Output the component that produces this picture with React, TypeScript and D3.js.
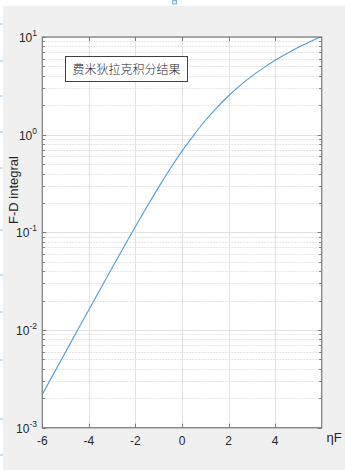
import React, { useEffect, useRef } from "react";
import * as d3 from "d3";

// Fermi level positions (ηF) and F-D integral values
const etaF = [-6, -5.5, -5, -4.5, -4, -3.5, -3, -2.5, -2, -1.5, -1, -0.5, 0, 0.5, 1, 1.5, 2, 2.5, 3, 3.5, 4, 4.5, 5, 5.5, 6];
const fdIntegral = [
  0.00219, 0.00362, 0.00596, 0.00981, 0.01613, 0.02648, 0.04336, 0.07072, 0.1146, 0.1838, 0.2905, 0.4498,
  0.678, 0.984, 1.397, 1.896, 2.503, 3.2, 3.977, 4.83, 5.771, 6.76, 7.844, 8.96, 10.16,
];
const xTicks = [-6, -4, -2, 0, 2, 4];
const yDecades = [-3, -2, -1, 0, 1];
const edgeMarks = [24, 61, 96, 132, 168, 230, 275, 312, 360, 419, 455];

const App: React.FC = () => {
  const svgRef = useRef<SVGSVGElement | null>(null);

  useEffect(() => {
    const width = 345;
    const height = 470;
    const left = 42.3;
    const right = 321.7;
    const top = 37;
    const bottom = 427.7;
    const font = "'Liberation Sans', Arial, sans-serif";
    const axisColor = "#7a7a7a";
    const textColor = "#262626";

    const svg = d3.select(svgRef.current).attr("width", width).attr("height", height);
    svg.selectAll("*").remove();

    // page background (screenshot frame)
    svg.append("rect").attr("width", width).attr("height", height).attr("fill", "#ffffff");
    svg.append("rect").attr("x", 3).attr("y", 6).attr("width", width - 3).attr("height", height - 6).attr("fill", "#f0f0f0");
    svg
      .append("g")
      .selectAll("line")
      .data(edgeMarks)
      .enter()
      .append("line")
      .attr("x1", 0)
      .attr("x2", 3)
      .attr("y1", (d) => d)
      .attr("y2", (d) => d)
      .attr("stroke", "#8cc0e8")
      .attr("stroke-width", 1);
    svg
      .append("rect")
      .attr("x", 172.5)
      .attr("y", 0.5)
      .attr("width", 4)
      .attr("height", 3.5)
      .attr("fill", "#dcebf7")
      .attr("stroke", "#7fb4de");

    const xScale = d3.scaleLinear().domain([-6, 6]).range([left, right]);
    const yScale = d3.scaleLog().domain([1e-3, 10]).range([bottom, top]);

    // plot area
    svg.append("rect").attr("x", left).attr("y", top).attr("width", right - left).attr("height", bottom - top).attr("fill", "#ffffff");

    const minorVals: number[] = [];
    yDecades.slice(0, -1).forEach((p) => {
      for (let k = 2; k <= 9; k++) minorVals.push(k * Math.pow(10, p));
    });
    const majorVals = yDecades.map((p) => Math.pow(10, p));

    // minor y grid
    svg
      .append("g")
      .selectAll("line")
      .data(minorVals)
      .enter()
      .append("line")
      .attr("x1", left)
      .attr("x2", right)
      .attr("y1", (d) => Math.round(yScale(d)) + 0.5)
      .attr("y2", (d) => Math.round(yScale(d)) + 0.5)
      .attr("stroke", "#e3e3e3")
      .attr("stroke-dasharray", "2,1");

    // major grid
    svg
      .append("g")
      .selectAll("line")
      .data(majorVals)
      .enter()
      .append("line")
      .attr("x1", left)
      .attr("x2", right)
      .attr("y1", (d) => Math.round(yScale(d)) + 0.5)
      .attr("y2", (d) => Math.round(yScale(d)) + 0.5)
      .attr("stroke", "#e2e2e2");
    svg
      .append("g")
      .selectAll("line")
      .data(xTicks.slice(1))
      .enter()
      .append("line")
      .attr("x1", (d) => Math.round(xScale(d)) + 0.5)
      .attr("x2", (d) => Math.round(xScale(d)) + 0.5)
      .attr("y1", top)
      .attr("y2", bottom)
      .attr("stroke", "#e2e2e2");

    // curve
    svg
      .append("clipPath")
      .attr("id", "plot-clip")
      .append("rect")
      .attr("x", left)
      .attr("y", top)
      .attr("width", right - left)
      .attr("height", bottom - top);
    const line = d3
      .line<number>()
      .x((_, i) => xScale(etaF[i]))
      .y((d) => yScale(d))
      .curve(d3.curveMonotoneX);
    svg
      .append("path")
      .datum(fdIntegral)
      .attr("d", line)
      .attr("fill", "none")
      .attr("stroke", "#4c9bd6")
      .attr("stroke-width", 1.1)
      .attr("clip-path", "url(#plot-clip)");

    // ticks (inward, both sides)
    const ticks = svg.append("g").attr("stroke", axisColor).attr("stroke-width", 1);
    majorVals.forEach((v) => {
      const y = Math.round(yScale(v)) + 0.5;
      ticks.append("line").attr("x1", left).attr("x2", left + 4).attr("y1", y).attr("y2", y);
      ticks.append("line").attr("x1", right - 4).attr("x2", right).attr("y1", y).attr("y2", y);
    });
    minorVals.forEach((v) => {
      const y = Math.round(yScale(v)) + 0.5;
      ticks.append("line").attr("x1", left).attr("x2", left + 2.5).attr("y1", y).attr("y2", y);
      ticks.append("line").attr("x1", right - 2.5).attr("x2", right).attr("y1", y).attr("y2", y);
    });
    xTicks.forEach((v) => {
      const x = Math.round(xScale(v)) + 0.5;
      ticks.append("line").attr("x1", x).attr("x2", x).attr("y1", bottom).attr("y2", bottom - 4);
      ticks.append("line").attr("x1", x).attr("x2", x).attr("y1", top).attr("y2", top + 4);
    });

    // axes box
    svg
      .append("rect")
      .attr("x", left)
      .attr("y", top)
      .attr("width", right - left)
      .attr("height", bottom - top)
      .attr("fill", "none")
      .attr("stroke", axisColor)
      .attr("stroke-width", 1.2);

    // x tick labels
    svg
      .append("g")
      .selectAll("text")
      .data(xTicks)
      .enter()
      .append("text")
      .attr("x", (d) => xScale(d))
      .attr("y", bottom + 17)
      .attr("text-anchor", "middle")
      .style("font-family", font)
      .style("font-size", "12px")
      .style("fill", textColor)
      .text((d) => String(d));

    // y tick labels 10^n
    yDecades.forEach((p) => {
      const t = svg
        .append("text")
        .attr("x", 37)
        .attr("y", yScale(Math.pow(10, p)) + 5)
        .attr("text-anchor", "end")
        .style("font-family", font)
        .style("font-size", "12px")
        .style("fill", textColor);
      t.append("tspan").text("10");
      t.append("tspan").attr("dy", -6).style("font-size", "8.5px").text(String(p));
    });

    // axis labels
    svg
      .append("text")
      .attr("x", 334)
      .attr("y", 442)
      .attr("text-anchor", "middle")
      .style("font-family", font)
      .style("font-size", "13px")
      .style("fill", textColor)
      .text("ηF");
    svg
      .append("text")
      .attr("transform", "translate(18,190) rotate(-90)")
      .attr("text-anchor", "middle")
      .style("font-family", font)
      .style("font-size", "13px")
      .style("fill", textColor)
      .text("F-D integral");

    // annotation box
    svg
      .append("rect")
      .attr("x", 65.5)
      .attr("y", 56.5)
      .attr("width", 122)
      .attr("height", 25)
      .attr("fill", "#ffffff")
      .attr("stroke", "#404040")
      .attr("stroke-width", 1);
    svg
      .append("text")
      .attr("x", 126.5)
      .attr("y", 73.5)
      .attr("text-anchor", "middle")
      .style("font-family", "'Noto Sans CJK SC', sans-serif")
      .style("font-size", "12px")
      .style("font-weight", 300)
      .style("fill", "#262626")
      .text("费米狄拉克积分结果");
  }, []);

  return (
    <div style={{ position: "fixed", left: 0, top: 0 }}>
      <svg ref={svgRef} style={{ display: "block" }}></svg>
    </div>
  );
};

export default App;
